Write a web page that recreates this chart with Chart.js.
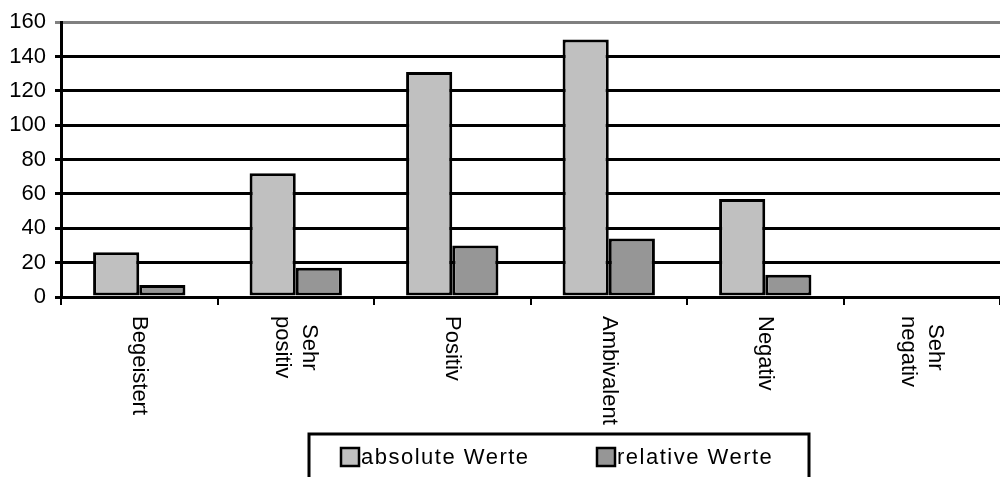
<!DOCTYPE html>
<html>
<head>
<meta charset="utf-8">
<script src="https://cdn.jsdelivr.net/npm/chart.js@4.4.1/dist/chart.umd.min.js"></script>
<style>
  html, body { margin: 0; padding: 0; background: #ffffff; }
  #wrap { width: 1000px; height: 477px; position: relative; }
</style>
</head>
<body>
<div id="wrap"><canvas id="c"></canvas></div>
<script>
// Categories (multi-line labels as arrays)
const categories = [
  ['Begeistert'],
  ['Sehr', 'positiv'],
  ['Positiv'],
  ['Ambivalent'],
  ['Negativ'],
  ['Sehr', 'negativ']
];
const absoluteValues = [26, 72, 131, 150, 57, 0];
const relativeValues = [7, 17, 30, 34, 13, 0];
const seriesNames = ['absolute Werte', 'relative Werte'];
const yTicks = [0, 20, 40, 60, 80, 100, 120, 140, 160];

const FONT = "'Liberation Sans', Arial, sans-serif";
const colAbs = '#c0c0c0';
const colRel = '#969696';

// Rotated category labels, reading top to bottom
const rotatedLabels = {
  id: 'rotatedLabels',
  afterDraw(chart) {
    const ctx = chart.ctx;
    const xs = chart.scales.x;
    const top = chart.chartArea.bottom + 19;
    const lineH = 27;
    ctx.save();
    ctx.fillStyle = '#000';
    ctx.font = '22px ' + FONT;
    ctx.textAlign = 'left';
    ctx.textBaseline = 'middle';
    chart.data.labels.forEach((lines, i) => {
      const x = xs.getPixelForValue(i);
      ctx.save();
      ctx.translate(x, top);
      ctx.rotate(Math.PI / 2);
      const n = lines.length;
      lines.forEach((t, k) => {
        const off = (k - (n - 1) / 2) * lineH;
        const shift = (n > 1 && k === 0) ? 8 : 0;
        ctx.fillText(t, shift, off);
      });
      ctx.restore();
    });
    ctx.restore();
  }
};

// Boxed legend below the axis labels
const boxedLegend = {
  id: 'boxedLegend',
  afterDraw(chart) {
    const ctx = chart.ctx;
    ctx.save();
    ctx.lineWidth = 3;
    ctx.strokeStyle = '#000';
    ctx.strokeRect(309, 434, 500, 60);
    ctx.font = '22px ' + FONT;
    ctx.letterSpacing = '1.5px';
    ctx.textBaseline = 'middle';
    ctx.textAlign = 'left';
    const starts = [341, 597];
    chart.data.datasets.forEach((ds, i) => {
      const x = starts[i];
      const y = 448;
      ctx.fillStyle = ds.backgroundColor;
      ctx.fillRect(x, y, 18, 18);
      ctx.lineWidth = 2.5;
      ctx.strokeRect(x, y, 18, 18);
      ctx.fillStyle = '#000';
      ctx.fillText(ds.label, x + 20, y + 10);
    });
    ctx.restore();
  }
};

new Chart(document.getElementById('c'), {
  type: 'bar',
  data: {
    labels: categories,
    datasets: [
      {
        label: seriesNames[0],
        data: absoluteValues,
        backgroundColor: colAbs,
        borderColor: '#000',
        borderWidth: 3,
        borderSkipped: false,
        categoryPercentage: 0.59,
        barPercentage: 1.0
      },
      {
        label: seriesNames[1],
        data: relativeValues,
        backgroundColor: colRel,
        borderColor: '#000',
        borderWidth: 3,
        borderSkipped: false,
        categoryPercentage: 0.59,
        barPercentage: 1.0
      }
    ]
  },
  options: {
    responsive: true,
    maintainAspectRatio: false,
    animation: false,
    devicePixelRatio: 1,
    layout: { padding: { top: 22, right: 0, left: 0, bottom: 0 } },
    plugins: {
      legend: { display: false },
      tooltip: { enabled: false },
      title: { display: false }
    },
    scales: {
      x: {
        afterFit(scale) { scale.height = 180; },
        ticks: { display: false },
        grid: {
          offset: true,
          drawOnChartArea: false,
          drawTicks: true,
          tickLength: 8,
          color: '#000',
          lineWidth: 2
        },
        border: { display: true, color: '#000', width: 3 }
      },
      y: {
        min: 0,
        max: 160,
        afterFit(scale) { scale.width = 61; },
        afterBuildTicks(scale) { scale.ticks = yTicks.map(v => ({ value: v })); },
        ticks: {
          color: '#000',
          font: { family: FONT, size: 22 },
          padding: 9
        },
        grid: {
          color: (c) => (c.tick && c.tick.value === 160 ? '#808080' : '#000'),
          lineWidth: 3,
          tickLength: 6
        },
        border: { display: true, color: '#000', width: 3 }
      }
    }
  },
  plugins: [rotatedLabels, boxedLegend]
});
</script>
</body>
</html>
